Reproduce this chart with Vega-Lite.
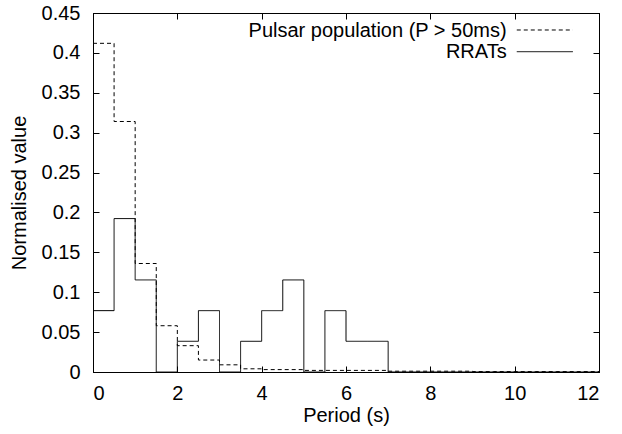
{
  "$schema": "https://vega.github.io/schema/vega-lite/v6.json",
  "width": 506,
  "height": 359,
  "autosize": {"type": "none"},
  "padding": {"left": 93, "top": 13, "right": 23, "bottom": 62},
  "background": "white",
  "config": {
    "font": "Liberation Sans",
    "view": {"stroke": "black", "strokeWidth": 1},
    "axis": {
      "domainColor": "black",
      "tickColor": "black",
      "labelColor": "black",
      "titleColor": "black",
      "labelFont": "Liberation Sans",
      "titleFont": "Liberation Sans",
      "labelFontSize": 20,
      "titleFontSize": 20,
      "titleFontWeight": "normal",
      "grid": false
    }
  },
  "datasets": {
    "hist": [
      {"series": "pulsar", "x": 0, "y": 0.412},
      {"series": "pulsar", "x": 0.5, "y": 0.314},
      {"series": "pulsar", "x": 1, "y": 0.136},
      {"series": "pulsar", "x": 1.5, "y": 0.058},
      {"series": "pulsar", "x": 2, "y": 0.033},
      {"series": "pulsar", "x": 2.5, "y": 0.015},
      {"series": "pulsar", "x": 3, "y": 0.009},
      {"series": "pulsar", "x": 3.5, "y": 0.004},
      {"series": "pulsar", "x": 4, "y": 0.003},
      {"series": "pulsar", "x": 4.5, "y": 0.003},
      {"series": "pulsar", "x": 5, "y": 0.002},
      {"series": "pulsar", "x": 5.5, "y": 0.002},
      {"series": "pulsar", "x": 6, "y": 0.002},
      {"series": "pulsar", "x": 6.5, "y": 0.002},
      {"series": "pulsar", "x": 7, "y": 0.001},
      {"series": "pulsar", "x": 7.5, "y": 0.001},
      {"series": "pulsar", "x": 8, "y": 0.001},
      {"series": "pulsar", "x": 8.5, "y": 0.001},
      {"series": "pulsar", "x": 9, "y": 0.0005},
      {"series": "pulsar", "x": 9.5, "y": 0.0005},
      {"series": "pulsar", "x": 10, "y": 0.0005},
      {"series": "pulsar", "x": 10.5, "y": 0.0005},
      {"series": "pulsar", "x": 11, "y": 0.0005},
      {"series": "pulsar", "x": 11.5, "y": 0.0005},
      {"series": "pulsar", "x": 12, "y": 0.0005},
      {"series": "RRATs", "x": 0, "y": 0.0769},
      {"series": "RRATs", "x": 0.5, "y": 0.1923},
      {"series": "RRATs", "x": 1, "y": 0.1154},
      {"series": "RRATs", "x": 1.5, "y": 0},
      {"series": "RRATs", "x": 2, "y": 0.0385},
      {"series": "RRATs", "x": 2.5, "y": 0.0769},
      {"series": "RRATs", "x": 3, "y": 0},
      {"series": "RRATs", "x": 3.5, "y": 0.0385},
      {"series": "RRATs", "x": 4, "y": 0.0769},
      {"series": "RRATs", "x": 4.5, "y": 0.1154},
      {"series": "RRATs", "x": 5, "y": 0},
      {"series": "RRATs", "x": 5.5, "y": 0.0769},
      {"series": "RRATs", "x": 6, "y": 0.0385},
      {"series": "RRATs", "x": 6.5, "y": 0.0385},
      {"series": "RRATs", "x": 7, "y": 0},
      {"series": "RRATs", "x": 12, "y": 0}
    ],
    "legend": [
      {"series": "pulsar", "label": "Pulsar population (P > 50ms)", "tx": 9.81, "lx1": 10.05, "lx2": 11.38, "ly": 0.4287, "ty": 0.4203},
      {"series": "RRATs", "label": "RRATs", "tx": 9.81, "lx1": 10.05, "lx2": 11.38, "ly": 0.4015, "ty": 0.3932}
    ]
  },
  "layer": [
    {
      "data": {"name": "hist"},
      "mark": {"type": "line", "interpolate": "step-after", "strokeWidth": 1, "color": "black"},
      "encoding": {
        "x": {
          "field": "x", "type": "quantitative",
          "scale": {"domain": [0, 12], "nice": false, "zero": false},
          "axis": {"orient": "bottom", "values": [0, 2, 4, 6, 8, 10, 12], "tickSize": -6, "labelPadding": 17, "title": "Period (s)", "titlePadding": 2}
        },
        "y": {
          "field": "y", "type": "quantitative",
          "scale": {"domain": [0, 0.45], "nice": false},
          "axis": {"orient": "left", "values": [0, 0.05, 0.1, 0.15, 0.2, 0.25, 0.3, 0.35, 0.4, 0.45], "format": "~g", "tickSize": -6, "labelPadding": 19, "title": "Normalised value", "titlePadding": 12}
        },
        "detail": {"field": "series"},
        "strokeDash": {
          "field": "series", "type": "nominal",
          "scale": {"domain": ["pulsar", "RRATs"], "range": [[4, 3], [1, 0]]},
          "legend": null
        }
      }
    },
    {
      "data": {"name": "legend"},
      "mark": {"type": "rule", "strokeWidth": 1, "color": "black"},
      "encoding": {
        "x": {"field": "lx1", "type": "quantitative", "axis": {"orient": "top", "values": [0, 2, 4, 6, 8, 10, 12], "labels": false, "tickSize": -6, "title": null}},
        "x2": {"field": "lx2"},
        "y": {"field": "ly", "type": "quantitative", "axis": {"orient": "right", "values": [0, 0.05, 0.1, 0.15, 0.2, 0.25, 0.3, 0.35, 0.4, 0.45], "labels": false, "tickSize": -6, "title": null}},
        "strokeDash": {"field": "series", "type": "nominal", "legend": null}
      }
    },
    {
      "data": {"name": "legend"},
      "mark": {"type": "text", "align": "right", "baseline": "alphabetic", "fontSize": 20, "font": "Liberation Sans", "color": "black"},
      "encoding": {
        "x": {"field": "tx", "type": "quantitative", "axis": null},
        "y": {"field": "ty", "type": "quantitative", "axis": null},
        "text": {"field": "label"}
      }
    }
  ]
}
